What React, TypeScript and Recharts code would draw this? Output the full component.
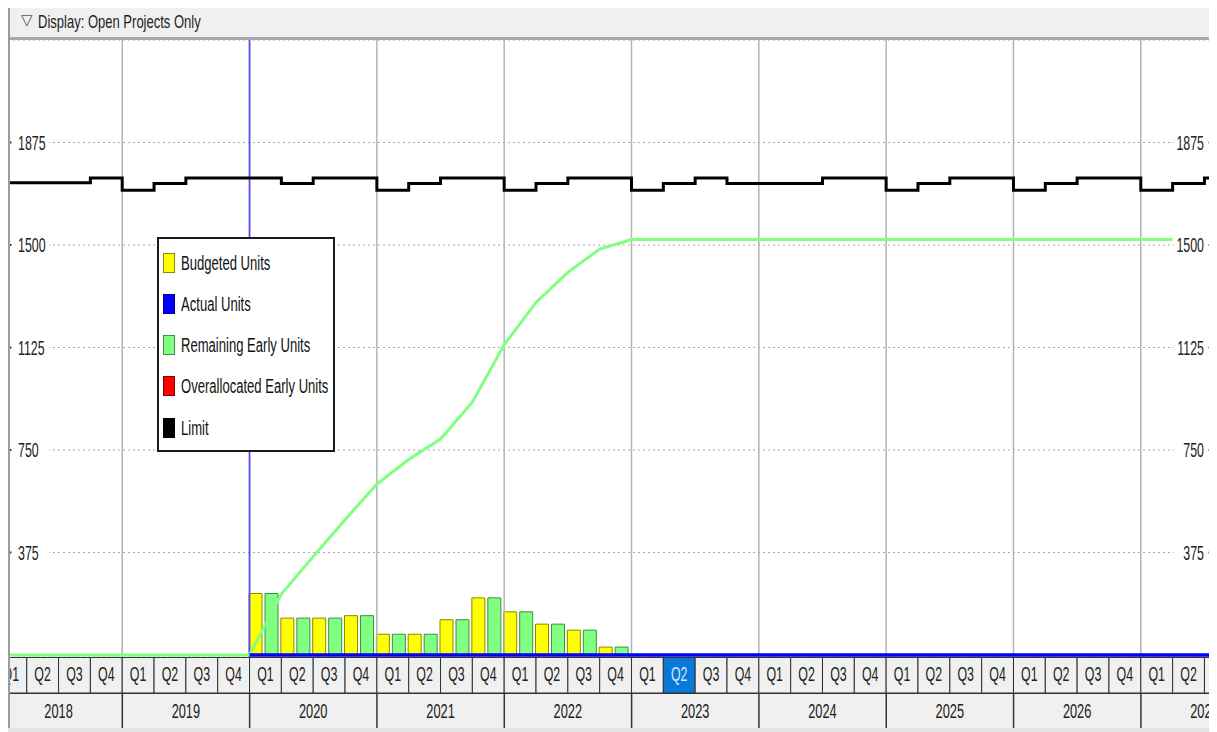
import React from 'react';
import {
  ComposedChart,
  Bar,
  Line,
  XAxis,
  YAxis,
  CartesianGrid,
  ReferenceLine,
  Legend,
  Rectangle,
} from 'recharts';

// time axis is counted in quarters: t = 0 is the start of 2018 Q1
const years = ['2018', '2019', '2020', '2021', '2022', '2023', '2024', '2025', '2026', '2027'];
const quarterNames = ['Q1', 'Q2', 'Q3', 'Q4'];
const currentQuarter = 21; // 2023 Q2, highlighted in the header
const dataDate = 8; // 2020 Q1

// units per quarter, 2020 Q1 .. 2022 Q4
const firstBarQuarter = 8;
const budgetedUnits = [225, 135, 135, 144, 76, 76, 129, 209, 158, 113, 91, 29];
const remainingEarlyUnits = [225, 135, 135, 144, 76, 76, 129, 209, 158, 113, 91, 29];

// cumulative remaining early units, read at quarter boundaries
const remainingCurveT = [0, 8, 9, 10, 11, 12, 13, 14, 15, 16, 17, 18, 19, 20, 37];
const remainingCurve = [0, 0, 223, 360, 495, 625, 715, 790, 925, 1135, 1290, 1400, 1485, 1520, 1520];

// actual units (none yet), from the data date on
const actualT = [8, 40];
const actualUnits = [0, 0];

// limit per quarter, 2018 Q1 .. 2027 Q3
const limitUnits = [
  1728, 1728, 1728, 1745,
  1700, 1725, 1745, 1745,
  1745, 1725, 1745, 1745,
  1700, 1725, 1745, 1745,
  1700, 1725, 1745, 1745,
  1700, 1725, 1745, 1725,
  1725, 1725, 1745, 1745,
  1700, 1725, 1745, 1745,
  1700, 1725, 1745, 1745,
  1700, 1725, 1745,
];

const yTicks = [375, 750, 1125, 1500, 1875];

const legendNames = ['Budgeted Units', 'Actual Units', 'Remaining Early Units', 'Overallocated Early Units', 'Limit'];
const legendFills = ['#ffff00', '#0000ff', '#80ff80', '#ff0000', '#000000'];
const legendBorders = ['#8a8a00', '#00008a', '#3f8f3f', '#8a0000', '#000000'];

// layout
const CHART_W = 1207;
const CHART_H = 692;
const PLOT_L = 1;
const PLOT_R = 1205;
const PLOT_W = PLOT_R - PLOT_L;
const PLOT_H = 617;
const X_MIN = 0.412;
const X_MAX = 38.3;
const Y_DOMAIN = [-7.3, 2250];
const PX_PER_Q = PLOT_W / (X_MAX - X_MIN);
const Q_TOP = PLOT_H;
const Q_H = 36;
const YR_TOP = Q_TOP + Q_H;
const YR_H = 35;
const FONT = "'Liberation Sans', Arial, sans-serif";

const barData = budgetedUnits.map((v, i) => ({
  t: firstBarQuarter + i + 0.5,
  budgeted: v,
  remaining: remainingEarlyUnits[i],
}));
const remainingData = remainingCurveT.map((t, i) => ({ t, v: remainingCurve[i] }));
const actualData = actualT.map((t, i) => ({ t, v: actualUnits[i] }));
const limitData = [
  ...limitUnits.map((v, i) => ({ t: i, v })),
  { t: limitUnits.length, v: limitUnits[limitUnits.length - 1] },
];

const quarterTicks = years.flatMap((_, yi) => quarterNames.map((_, qi) => yi * 4 + qi + 0.5));
const yearTicks = years.map((_, yi) => yi * 4 + 2);
const yearStarts = years.map((_, yi) => yi * 4);

const QuarterTick = (props: any) => {
  const { x, payload } = props;
  const i = Math.floor(payload.value);
  const active = i === currentQuarter;
  return (
    <g>
      <rect
        x={x - PX_PER_Q / 2}
        y={Q_TOP + 0.5}
        width={PX_PER_Q}
        height={Q_H - 0.5}
        fill={active ? '#0a78d7' : '#f0f0f0'}
        stroke="#333"
        strokeWidth={1}
      />
      <g transform={`translate(${x},${Q_TOP + 24}) scale(0.62,1)`}>
        <text x={0} y={0} textAnchor="middle" fontSize={20} fontFamily={FONT} fill={active ? '#d6ebff' : '#222'}>
          {quarterNames[i % 4]}
        </text>
      </g>
    </g>
  );
};

const YearTick = (props: any) => {
  const { x, payload } = props;
  const yi = Math.round((payload.value - 2) / 4);
  const half = PX_PER_Q * 2;
  return (
    <g>
      <rect x={x - half} y={YR_TOP} width={half * 2} height={YR_H} fill="#f0f0f0" />
      <line x1={x - half} x2={x - half} y1={YR_TOP} y2={YR_TOP + YR_H} stroke="#333" strokeWidth={1.5} />
      <line x1={x - half} x2={x + half} y1={YR_TOP + 0.5} y2={YR_TOP + 0.5} stroke="#333" strokeWidth={1} />
      <g transform={`translate(${x},${YR_TOP + 25}) scale(0.64,1)`}>
        <text x={0} y={0} textAnchor="middle" fontSize={20} fontFamily={FONT} fill="#222">
          {years[yi]}
        </text>
      </g>
    </g>
  );
};

const LeftTick = (props: any) => {
  const { y, payload } = props;
  return (
    <g>
      <rect x={PLOT_L + 3} y={y - 9} width={37} height={18} fill="#fff" />
      <rect x={PLOT_L + 0.5} y={y - 1} width={2} height={2} fill="#444" />
      <g transform={`translate(${PLOT_L + 9},${y + 7}) scale(0.62,1)`}>
        <text x={0} y={0} fontSize={20} fontFamily={FONT} fill="#222">
          {payload.value}
        </text>
      </g>
    </g>
  );
};

const RightTick = (props: any) => {
  const { y, payload } = props;
  return (
    <g>
      <rect x={PLOT_R - 39} y={y - 9} width={35} height={18} fill="#fff" />
      <rect x={PLOT_R - 4.5} y={y - 1} width={2} height={2} fill="#444" />
      <g transform={`translate(${PLOT_R - 9},${y + 7}) scale(0.62,1)`}>
        <text x={0} y={0} textAnchor="end" fontSize={20} fontFamily={FONT} fill="#222">
          {payload.value}
        </text>
      </g>
    </g>
  );
};

// the bars sit slightly left of the quarter centre in the original
const ShiftedBar = (props: any) => <Rectangle {...props} x={props.x - 1.5} />;

const LegendBox = () => (
  <div
    style={{
      width: 178,
      height: 215,
      boxSizing: 'border-box',
      border: '2px solid #1a1a1a',
      background: '#fff',
      position: 'relative',
      fontFamily: FONT,
    }}
  >
    {legendNames.map((name, i) => (
      <div key={name} style={{ position: 'absolute', left: 4, top: 13.5 + i * 41.3, height: 20, display: 'flex', alignItems: 'center' }}>
        <div
          style={{
            width: 12,
            height: 20,
            boxSizing: 'border-box',
            background: legendFills[i],
            border: `1px solid ${legendBorders[i]}`,
          }}
        />
        <div
          style={{
            marginLeft: 6,
            fontSize: 19.5,
            lineHeight: '20px',
            color: '#111',
            whiteSpace: 'nowrap',
            transform: 'scaleX(0.67)',
            transformOrigin: 'left center',
          }}
        >
          {name}
        </div>
      </div>
    ))}
  </div>
);

export default function App() {
  return (
    <div
      style={{
        position: 'relative',
        width: 1207,
        height: 728,
        marginTop: -4,
        overflow: 'hidden',
        background: '#fff',
        fontFamily: FONT,
      }}
    >
      <div
        style={{
          position: 'absolute',
          left: 0,
          top: 0,
          width: 1204,
          height: 33,
          background: '#f0f0f0',
          borderBottom: '3px solid #a9a9a9',
          borderRight: '1px solid #c4c4c4',
        }}
      >
        <span style={{ position: 'absolute', left: 13, top: 8, fontSize: 15, lineHeight: '17px', color: '#555', fontFamily: "'DejaVu Sans', sans-serif" }}>▽</span>
        <span
          style={{
            position: 'absolute',
            left: 30,
            top: 7,
            fontSize: 18.6,
            lineHeight: '22px',
            color: '#1e1e1e',
            whiteSpace: 'nowrap',
            transform: 'scaleX(0.7)',
            transformOrigin: 'left center',
          }}
        >
          Display: Open Projects Only
        </span>
      </div>
      <div style={{ position: 'absolute', left: 0, top: 36 }}>
        <ComposedChart
          width={CHART_W}
          height={CHART_H}
          data={barData}
          margin={{ top: 0, right: CHART_W - PLOT_R - 1, bottom: CHART_H - PLOT_H - Q_H - YR_H, left: PLOT_L - 1 }}
          barGap={3}
        >
          <CartesianGrid
            xAxisId="q"
            yAxisId="l"
            vertical={false}
            stroke="#a8a8a8"
            strokeWidth={1.2}
            strokeDasharray="2 3"
          />
          <XAxis
            xAxisId="q"
            type="number"
            dataKey="t"
            domain={[X_MIN, X_MAX]}
            allowDataOverflow
            ticks={quarterTicks}
            interval={0}
            height={Q_H}
            axisLine={false}
            tickLine={false}
            tick={QuarterTick}
          />
          <XAxis
            xAxisId="y"
            type="number"
            dataKey="t"
            domain={[X_MIN, X_MAX]}
            allowDataOverflow
            ticks={yearTicks}
            interval={0}
            height={YR_H}
            axisLine={false}
            tickLine={false}
            tick={YearTick}
          />
          <XAxis xAxisId="lines" type="number" dataKey="t" domain={[X_MIN, X_MAX]} allowDataOverflow hide />
          <YAxis
            yAxisId="l"
            orientation="left"
            mirror
            width={1}
            domain={Y_DOMAIN}
            allowDataOverflow
            ticks={yTicks}
            interval={0}
            axisLine={false}
            tickLine={false}
            tick={LeftTick}
          />
          <YAxis
            yAxisId="r"
            orientation="right"
            mirror
            width={1}
            domain={Y_DOMAIN}
            allowDataOverflow
            ticks={yTicks}
            interval={0}
            axisLine={false}
            tickLine={false}
            tick={RightTick}
          />
          {yearStarts.map((t) => (
            <ReferenceLine key={t} xAxisId="q" yAxisId="l" x={t} stroke="#b4b4b4" strokeWidth={1.5} />
          ))}
          <ReferenceLine xAxisId="q" yAxisId="l" x={dataDate} stroke="#4a4aff" strokeWidth={1.6} />
          <Bar
            xAxisId="q"
            yAxisId="l"
            dataKey="budgeted"
            name="Budgeted Units"
            fill="#ffff00"
            stroke="#8a8a00"
            strokeWidth={1}
            barSize={13}
            shape={ShiftedBar}
            isAnimationActive={false}
          />
          <Bar
            xAxisId="q"
            yAxisId="l"
            dataKey="remaining"
            name="Remaining Early Units"
            fill="#80ff80"
            stroke="#3f8f3f"
            strokeWidth={1}
            barSize={13}
            shape={ShiftedBar}
            isAnimationActive={false}
          />
          <Line
            xAxisId="lines"
            yAxisId="l"
            data={remainingData}
            dataKey="v"
            name="Remaining Early Units"
            type="linear"
            stroke="#80ff80"
            strokeWidth={3}
            dot={false}
            isAnimationActive={false}
          />
          <Line
            xAxisId="lines"
            yAxisId="l"
            data={limitData}
            dataKey="v"
            name="Limit"
            type="stepAfter"
            stroke="#000"
            strokeWidth={3}
            dot={false}
            isAnimationActive={false}
          />
          <Line
            xAxisId="lines"
            yAxisId="l"
            data={actualData}
            dataKey="v"
            name="Actual Units"
            type="linear"
            stroke="#0000ff"
            strokeWidth={3.5}
            dot={false}
            isAnimationActive={false}
          />
          <Legend
            layout="vertical"
            align="center"
            verticalAlign="middle"
            wrapperStyle={{ left: 149, top: 197, width: 178, height: 215 }}
            content={() => <LegendBox />}
          />
        </ComposedChart>
      </div>
      <div style={{ position: 'absolute', left: 0, top: 0, width: 1.5, height: 728, background: '#9c9c9c' }} />
      <div style={{ position: 'absolute', left: 1205, top: 0, width: 2, height: 728, background: '#c0c0c0' }} />
      <div style={{ position: 'absolute', left: 0, top: 724, width: 1207, height: 4, background: '#e4e4e4' }} />
    </div>
  );
}
